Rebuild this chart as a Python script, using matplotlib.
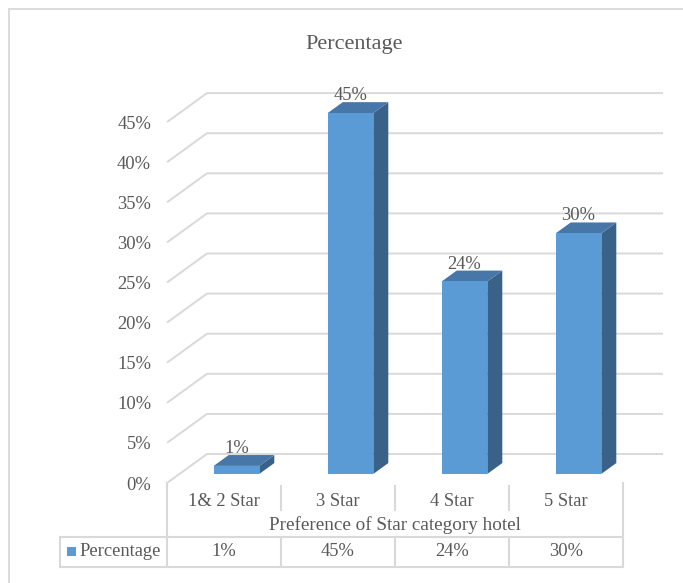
import matplotlib
matplotlib.use("Agg")
import matplotlib.pyplot as plt
from matplotlib.patches import Polygon, Rectangle

# ── Data ──────────────────────────────────────────────────────────────────────
categories   = ["1& 2 Star", "3 Star", "4 Star", "5 Star"]
values       = [1, 45, 24, 30]
value_labels = ["1%", "45%", "24%", "30%"]
y_ticks      = [0, 5, 10, 15, 20, 25, 30, 35, 40, 45]
series_name  = "Percentage"
chart_title  = "Percentage"
x_title      = "Preference of Star category hotel"

# ── Theme ─────────────────────────────────────────────────────────────────────
TXT   = "#595959"
GRID  = "#D9D9D9"
FRONT = "#5B9BD5"
TOP   = "#4677A8"
SIDE  = "#3A6289"

plt.rcParams["font.family"] = ["Liberation Serif", "DejaVu Serif"]

W, H, DPI = 683, 583, 100

# plot-area geometry in pixels (front plane) and 3D depth
X0, X1   = 167, 623
Y0       = 483
PX_PCT   = 8.02
YMAX     = 50
DEPTH_PX = (40, 29)
CAT_W    = (X1 - X0) / len(categories)

fig = plt.figure(figsize=(W / DPI, H / DPI), dpi=DPI)
fig.patch.set_facecolor("white")

# overlay in pixel coords for frame + data table
ov = fig.add_axes([0, 0, 1, 1], zorder=0)
ov.set_xlim(0, W)
ov.set_ylim(H, 0)
ov.axis("off")

ax = fig.add_axes([X0 / W, (H - Y0) / H, (X1 - X0) / W, YMAX * PX_PCT / H], zorder=1)
ax.set_facecolor("none")
ax.set_xlim(-0.5, len(categories) - 0.5)
ax.set_ylim(0, YMAX)
for s in ax.spines.values():
    s.set_visible(False)

# depth in data units
ddx = DEPTH_PX[0] * len(categories) / (X1 - X0)
ddy = DEPTH_PX[1] / PX_PCT

# back wall + side wall gridlines
x_lo, x_hi = -0.5, len(categories) - 0.5
for t in y_ticks:
    ax.plot([x_lo, x_lo + ddx, x_hi + ddx], [t, t + ddy, t + ddy],
            color=GRID, lw=1.4, clip_on=False, zorder=1, solid_capstyle="butt")

# 3D bars
BAR_W, BAR_FRONT, BAR_DEPTH = 0.40, 0.3125, 0.375
for i, (v, lab) in enumerate(zip(values, value_labels)):
    ox, oy = BAR_FRONT * ddx, BAR_FRONT * ddy
    bx, by = BAR_DEPTH * ddx, BAR_DEPTH * ddy
    xl, xr = i - BAR_W / 2 + ox, i + BAR_W / 2 + ox
    yb, yt = oy, v + oy
    ax.add_patch(Polygon([(xr, yb), (xr + bx, yb + by), (xr + bx, yt + by), (xr, yt)],
                         closed=True, fc=SIDE, ec="none", zorder=3, clip_on=False))
    ax.add_patch(Polygon([(xl, yt), (xr, yt), (xr + bx, yt + by), (xl + bx, yt + by)],
                         closed=True, fc=TOP, ec="none", zorder=3, clip_on=False))
    ax.add_patch(Polygon([(xl, yb), (xr, yb), (xr, yt), (xl, yt)],
                         closed=True, fc=FRONT, ec="none", zorder=4, clip_on=False))
    ax.text(i + ox, yt + by + 2.0 / PX_PCT, lab, ha="center", va="baseline",
            fontsize=13.3, color=TXT, zorder=5)

ax.set_yticks(y_ticks)
ax.set_yticklabels([f"{t}%" for t in y_ticks])
ax.set_xticks(range(len(categories)))
ax.set_xticklabels(categories)
ax.tick_params(axis="y", length=0, pad=11.5, labelsize=13.3, labelcolor=TXT)
ax.tick_params(axis="x", length=0, pad=7.5, labelsize=13.3, labelcolor=TXT)
for t in ax.get_yticklabels():
    t.set_y(t.get_position()[1])
ax.yaxis.set_tick_params(which="major")

# ── Title ─────────────────────────────────────────────────────────────────────
ov.text(354, 44, chart_title, ha="center", va="center", fontsize=16, color=TXT)

# ── Outer chart frame (left + top only) ───────────────────────────────────────
ov.plot([9, 9], [H, 8.5], color=GRID, lw=1.3)
ov.plot([9, W], [8.5, 8.5], color=GRID, lw=1.3)

# ── Data table ────────────────────────────────────────────────────────────────
ROW_TOP, ROW_BOT, CAT_BOT = 537, 567, 510
LEG_X = 60
for k in range(len(categories) + 1):
    x = X0 + k * CAT_W
    if k in (0, len(categories)):
        ov.plot([x, x], [Y0, ROW_BOT], color=GRID, lw=1.5)
    else:
        ov.plot([x, x], [Y0 + 3, CAT_BOT], color=GRID, lw=1.5)
        ov.plot([x, x], [ROW_TOP, ROW_BOT], color=GRID, lw=1.5)
ov.plot([LEG_X, X1], [ROW_TOP, ROW_TOP], color=GRID, lw=1.5)
ov.plot([LEG_X, X1], [ROW_BOT, ROW_BOT], color=GRID, lw=1.5)
ov.plot([LEG_X, LEG_X], [ROW_TOP, ROW_BOT], color=GRID, lw=1.5)

ov.text((X0 + X1) / 2, 525, x_title, ha="center", va="center", fontsize=13.8, color=TXT)

ov.add_patch(Rectangle((67, 546.5), 9, 9.5, fc=FRONT, ec="none"))
ov.text(79, 552, series_name, ha="left", va="center", fontsize=13.3, color=TXT)
for i, lab in enumerate(value_labels):
    ov.text(X0 + (i + 0.5) * CAT_W, 552, lab, ha="center", va="center",
            fontsize=13.3, color=TXT)

fig.savefig("out.png", dpi=DPI, facecolor="white")
